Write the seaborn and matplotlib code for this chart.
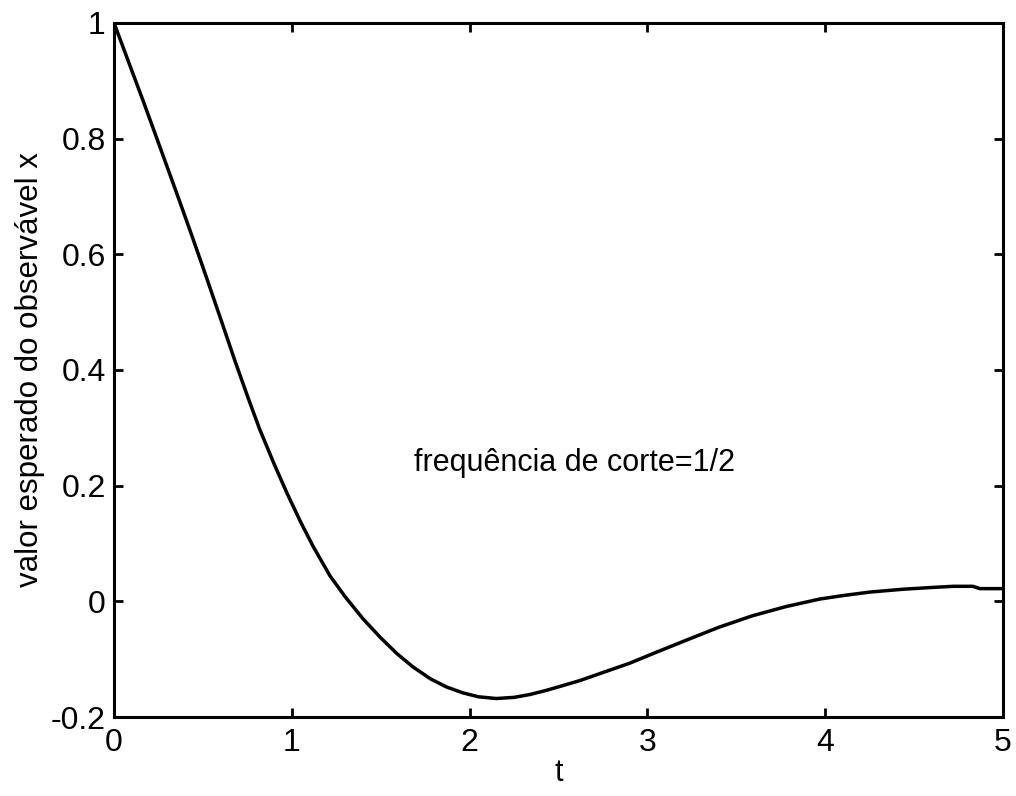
import matplotlib
matplotlib.use("Agg")
import matplotlib.pyplot as plt
import seaborn as sns
import pandas as pd

# expected value of the observable x versus time
t = [0.0, 0.09, 0.163, 0.22, 0.298, 0.371, 0.444, 0.52, 0.607, 0.68,
     0.754, 0.82, 0.90, 0.973, 1.05, 1.12, 1.215, 1.30, 1.40, 1.50,
     1.59, 1.68, 1.78, 1.87, 1.96, 2.05, 2.15, 2.25, 2.34, 2.43,
     2.52, 2.62, 2.75, 2.90, 3.05, 3.22, 3.40, 3.59, 3.78, 3.97,
     4.10, 4.25, 4.44, 4.60, 4.72, 4.83, 4.87, 5.0]
x_mean = [1.0, 0.926, 0.866, 0.818, 0.752, 0.690, 0.627, 0.560, 0.482, 0.416,
          0.352, 0.297, 0.238, 0.187, 0.137, 0.095, 0.044, 0.008, -0.030, -0.063,
          -0.090, -0.113, -0.134, -0.148, -0.158, -0.165, -0.168, -0.166, -0.161, -0.154,
          -0.146, -0.137, -0.123, -0.107, -0.088, -0.067, -0.045, -0.025, -0.009, 0.004,
          0.010, 0.016, 0.021, 0.024, 0.026, 0.026, 0.022, 0.022]

xticks = [0, 1, 2, 3, 4, 5]
yticks = [-0.2, 0, 0.2, 0.4, 0.6, 0.8, 1]
ytick_labels = ["-0.2", "0", "0.2", "0.4", "0.6", "0.8", "1"]

sns.set_theme(style="white")
plt.rcParams["font.family"] = ["Liberation Sans", "DejaVu Sans"]

fig = plt.figure(figsize=(10.16, 7.96), dpi=100)
ax = fig.add_axes([0.1122, 0.0992, 0.875, 0.872])

df = pd.DataFrame({"t": t, "x": x_mean})
sns.lineplot(data=df, x="t", y="x", color="black", linewidth=2.5, ax=ax,
             estimator=None, sort=False)

ax.set_xlim(0, 5)
ax.set_ylim(-0.2, 1)
ax.set_xticks(xticks)
ax.set_xticklabels([str(v) for v in xticks])
ax.set_yticks(yticks)
ax.set_yticklabels(ytick_labels)

for side in ["top", "bottom", "left", "right"]:
    ax.spines[side].set_visible(True)
    ax.spines[side].set_color("black")
    ax.spines[side].set_linewidth(2.2)

ax.tick_params(axis="both", which="major", direction="in", length=6.5, width=2.0,
               color="black", labelsize=23, labelcolor="black",
               top=True, right=True, bottom=True, left=True)
ax.tick_params(axis="x", pad=8)
ax.tick_params(axis="y", pad=6)

ax.set_xlabel("t", fontsize=22, color="black", labelpad=0)
ax.set_ylabel("valor esperado do observável x", fontsize=22.5, color="black", labelpad=4)

ax.text(1.69, 0.24, "frequência de corte=1/2", fontsize=22, color="black",
        ha="left", va="center")

ax.grid(False)
fig.savefig("out.png", dpi=100, facecolor="white")
